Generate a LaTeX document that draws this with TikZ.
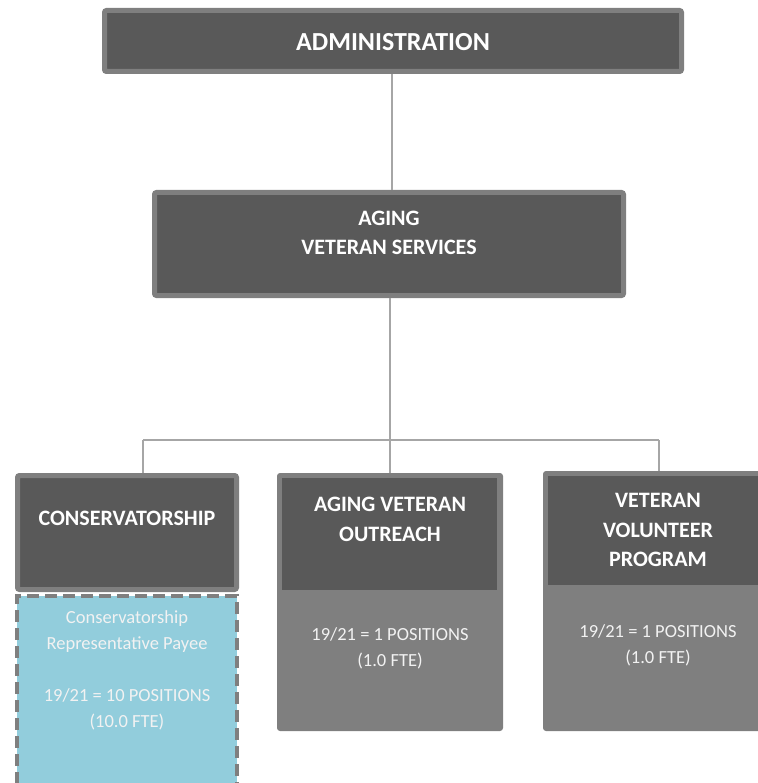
\documentclass[tikz,border=0pt]{standalone}
\usepackage{fontspec}
\setmainfont{Carlito}
\usetikzlibrary{positioning}
\definecolor{headgray}{HTML}{595959}
\definecolor{framegray}{HTML}{7F7F7F}
\definecolor{linegray}{HTML}{A6A6A6}
\definecolor{consblue}{HTML}{92CDDC}
\definecolor{softwhite}{HTML}{F2F2F2}

\begin{document}
\begin{tikzpicture}[x=1pt, y=-1pt,
    wire/.style={draw=linegray, line width=2pt},
    headbox/.style={fill=headgray, draw=framegray, line width=5pt, rounded corners=2pt, inner sep=0pt},
    panel/.style={fill=framegray, rounded corners=3pt, inner sep=0pt},
    darkbox/.style={fill=headgray, inner sep=0pt},
    bluebox/.style={fill=consblue, draw=framegray, line width=4pt, dash pattern=on 12pt off 6pt, inner sep=0pt},
    headtext/.style={text=white, align=center, font=\fontsize{22}{29.5}\selectfont\bfseries},
    infotext/.style={text=softwhite, align=center, font=\fontsize{18.5}{26}\selectfont}]
    \newcommand\rim{5}
    \newcommand\busy{440}

    \useasboundingbox (0,0) rectangle (757,783);

    % top of the chart
    \node[headbox, minimum width=577pt, minimum height=61pt] (admin) at (393,41) {};
    \node[headtext, font=\fontsize{26}{30}\selectfont\bfseries] (admin-t) at (393,42) {ADMINISTRATION};

    \node[headbox, minimum width=469pt, minimum height=103pt] (svcs) at (389,244) {};
    \node[headtext] (svcs-t) at (389,233) {AGING\\VETERAN SERVICES};

    % conservatorship
    \node[bluebox, minimum width=220pt, minimum height=230pt, anchor=north] (consinfo) at (127,594) {};
    \node[headbox, minimum width=219pt, minimum height=114pt] (cons) at (127,532.5) {};
    \node[headtext] (cons-t) at (127,518) {CONSERVATORSHIP};
    \node[infotext] (consinfo-t) at (127,670) {Conservatorship\\Representative Payee\\[26pt]19/21 = 10 POSITIONS\\(10.0 FTE)};

    % outreach
    \node[panel, minimum width=226pt, minimum height=258pt] (outreach) at (390,602) {};
    \node[darkbox, minimum width=215pt, minimum height=112pt] (outreach-h) at (389.5,534) {};
    \node[headtext] (outreach-t) at (390,519.5) {AGING VETERAN\\OUTREACH};
    \node[infotext] (outreach-i) at (390,648) {19/21 = 1 POSITIONS\\(1.0 FTE)};

    % volunteer program
    \node[panel, minimum width=230pt, minimum height=260pt] (vol) at (658,601) {};
    \node[darkbox, minimum width=220pt, minimum height=109pt] (vol-h) at (658,530.5) {};
    \node[headtext] (vol-t) at (658,530) {VETERAN\\VOLUNTEER\\PROGRAM};
    \node[infotext] (vol-i) at (658,645.5) {19/21 = 1 POSITIONS\\(1.0 FTE)};

    % draw connectors
    \coordinate (busL) at (143,\busy);
    \coordinate (busR) at (659,\busy);
    \draw[wire] (admin.south -| 392,0) -- (svcs.north -| 392,0);
    \draw[wire] (svcs.south -| 390,0) -- (390,\busy);
    \draw[wire] (busL) -- (busR);
    \draw[wire] (busL) -- (busL |- cons.north);
    \draw[wire] (390,\busy) -- (outreach.north);
    \draw[wire] (busR) -- (busR |- vol.north);
\end{tikzpicture}
\end{document}
